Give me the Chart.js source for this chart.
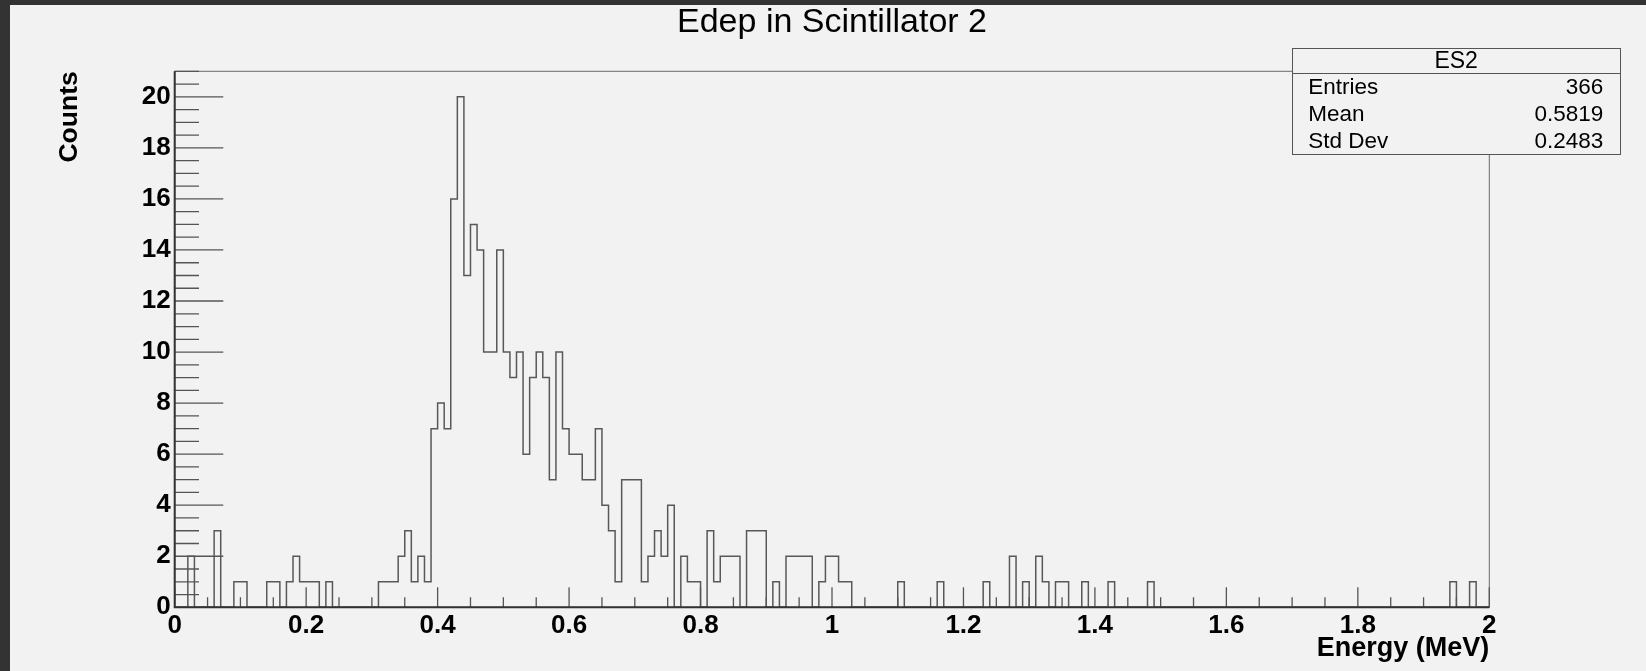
<!DOCTYPE html>
<html>
<head>
<meta charset="utf-8">
<title>Edep in Scintillator 2</title>
<script src="https://cdn.jsdelivr.net/npm/chart.js@4.4.1/dist/chart.umd.min.js"></script>
<style>
  html, body { margin: 0; padding: 0; background: #f2f2f2; }
  #wrap { position: relative; width: 1646px; height: 671px; overflow: hidden; font-family: "Liberation Sans", Arial, sans-serif; }
  #histChart { position: absolute; left: 0; top: 0; }
  .edge { position: absolute; background: #333333; }
  #stats { position: absolute; left: 1291.7px; top: 48.3px; width: 329px; height: 106.7px; box-sizing: border-box; border: 1px solid #555555; background: #f2f2f2; }
  #statsHead { position: absolute; left: 1291.7px; top: 72.5px; width: 329px; height: 1px; background: #555555; }
  .st { position: absolute; font-size: 22.5px; line-height: 27px; color: #000; white-space: nowrap; }
  .st.r { text-align: right; }
</style>
</head>
<body>
<div id="wrap">
  <canvas id="histChart" width="1646" height="671"></canvas>
  <div class="edge" style="left:0;top:0;width:1646px;height:5px"></div>
  <div class="edge" style="left:0;top:0;width:10px;height:671px"></div>
  <div id="stats"></div>
  <div id="statsHead"></div>
  <div class="st" style="left:1291.7px;width:329px;top:46.8px;font-size:23px;text-align:center">ES2</div>
  <div class="st" style="left:1308.3px;top:72.7px">Entries</div>
  <div class="st" style="left:1308.3px;top:100.4px">Mean</div>
  <div class="st" style="left:1308.3px;top:127px">Std Dev</div>
  <div class="st r" style="left:1403.3px;width:200px;top:72.7px">366</div>
  <div class="st r" style="left:1403.3px;width:200px;top:100.4px">0.5819</div>
  <div class="st r" style="left:1403.3px;width:200px;top:127px">0.2483</div>
</div>
<script>
// histogram ES2: 200 bins from 0 to 2 MeV
const xRange = [0, 2];
const binWidth = 0.01;
const counts = [
  0, 0, 2, 0, 0, 0, 3, 0, 0, 1, 1, 0, 0, 0, 1, 1, 0, 1, 2, 1,
  1, 1, 0, 1, 0, 0, 0, 0, 0, 0, 0, 1, 1, 1, 2, 3, 1, 2, 1, 7,
  8, 7, 16, 20, 13, 15, 14, 10, 10, 14, 10, 9, 10, 6, 9, 10, 9, 5, 10, 7,
  6, 6, 5, 5, 7, 4, 3, 1, 5, 5, 5, 1, 2, 3, 2, 4, 0, 2, 1, 1,
  0, 3, 1, 2, 2, 2, 0, 3, 3, 3, 0, 1, 0, 2, 2, 2, 2, 0, 1, 2,
  2, 1, 1, 0, 0, 0, 0, 0, 0, 0, 1, 0, 0, 0, 0, 0, 1, 0, 0, 0,
  0, 0, 0, 1, 0, 0, 0, 2, 0, 1, 0, 2, 1, 0, 1, 1, 0, 0, 1, 0,
  0, 0, 1, 0, 0, 0, 0, 0, 1, 0, 0, 0, 0, 0, 0, 0, 0, 0, 0, 0,
  0, 0, 0, 0, 0, 0, 0, 0, 0, 0, 0, 0, 0, 0, 0, 0, 0, 0, 0, 0,
  0, 0, 0, 0, 0, 0, 0, 0, 0, 0, 0, 0, 0, 0, 1, 0, 0, 1, 0, 0,
];
const yRange = [0, 21];
const xTickValues = [0, 0.2, 0.4, 0.6, 0.8, 1, 1.2, 1.4, 1.6, 1.8, 2];
const xTickLabels = ["0", "0.2", "0.4", "0.6", "0.8", "1", "1.2", "1.4", "1.6", "1.8", "2"];
const yTickValues = [0, 2, 4, 6, 8, 10, 12, 14, 16, 18, 20];
const xMinorStep = 0.05;
const yMinorStep = 0.5;

document.addEventListener("DOMContentLoaded", function () {
  const chartEl = document.getElementById("histChart");
  if (!chartEl) return;

  // one point per bin low edge, plus the upper edge of the last bin
  // ("before" stepping draws each count flat across its own bin)
  const outline = counts.map(function (c, i) {
    return { x: xRange[0] + i * binWidth, y: c };
  });
  outline.push({ x: xRange[1], y: counts[counts.length - 1] });

  const rootFrame = {
    id: "rootFrame",
    afterDatasetsDraw(chart) {
      const { ctx, chartArea: a, scales } = chart;
      const x = scales.x;
      const y = scales.y;
      ctx.save();
      // frame box
      ctx.strokeStyle = "#6a6a6a";
      ctx.lineWidth = 1;
      ctx.strokeRect(a.left, a.top, a.right - a.left, a.bottom - a.top);
      // ticks, pointing inside the frame
      ctx.strokeStyle = "#555555";
      ctx.lineWidth = 1.3;
      ctx.beginPath();
      for (let v = xRange[0]; v <= xRange[1] + 1e-9; v += xMinorStep) {
        const px = x.getPixelForValue(v);
        const major = xTickValues.some((t) => Math.abs(t - v) < 1e-6);
        ctx.moveTo(px, a.bottom);
        ctx.lineTo(px, a.bottom - (major ? 20 : 10));
      }
      for (let v = yRange[0]; v <= yRange[1] + 1e-9; v += yMinorStep) {
        const py = y.getPixelForValue(v);
        const major = yTickValues.some((t) => Math.abs(t - v) < 1e-6);
        ctx.moveTo(a.left, py);
        ctx.lineTo(a.left + (major ? 48.6 : 24.3), py);
      }
      ctx.stroke();
      // axis lines
      ctx.strokeStyle = "#333333";
      ctx.lineWidth = 2;
      ctx.beginPath();
      ctx.moveTo(a.left, a.top);
      ctx.lineTo(a.left, a.bottom);
      ctx.lineTo(a.right, a.bottom);
      ctx.stroke();
      ctx.restore();
    },
  };

  const config = {
    type: "line",
    data: {
      datasets: [
        {
          label: "ES2",
          data: outline,
          stepped: "before",
          borderColor: "#585858",
          borderWidth: 1.5,
          pointRadius: 0,
          fill: false,
        },
      ],
    },
    options: {
      responsive: false,
      devicePixelRatio: 1,
      animation: false,
      layout: { padding: { left: 0, right: 156.7, top: 0, bottom: 0 } },
      plugins: {
        legend: { display: false },
        tooltip: { enabled: false },
        title: {
          display: true,
          fullSize: false,
          text: "Edep in Scintillator 2",
          color: "#000000",
          font: { family: "Liberation Sans", size: 34, weight: "normal" },
          padding: { top: 2.4, bottom: 28.1 },
        },
      },
      scales: {
        x: {
          type: "linear",
          min: xRange[0],
          max: xRange[1],
          grid: { display: false, drawTicks: false, tickLength: 0 },
          border: { display: false },
          afterBuildTicks: function (axis) {
            axis.ticks = xTickValues.map((v) => ({ value: v }));
          },
          afterFit: function (axis) {
            axis.height = 63.7;
          },
          ticks: {
            padding: 3,
            maxRotation: 0,
            autoSkip: false,
            color: "#000000",
            font: { family: "Liberation Sans", size: 26, weight: "bold" },
            callback: function (value, index) {
              return xTickLabels[index];
            },
          },
          title: {
            display: true,
            text: "Energy (MeV)",
            align: "end",
            color: "#000000",
            font: { family: "Liberation Sans", size: 27, weight: "bold" },
            padding: { top: 0, bottom: 6.4 },
          },
        },
        y: {
          type: "linear",
          min: yRange[0],
          max: yRange[1],
          grid: { display: false, drawTicks: false, tickLength: 0 },
          border: { display: false },
          afterBuildTicks: function (axis) {
            axis.ticks = yTickValues.map((v) => ({ value: v }));
          },
          afterFit: function (axis) {
            axis.width = 174.7;
          },
          ticks: {
            padding: 4,
            autoSkip: false,
            color: "#000000",
            font: { family: "Liberation Sans", size: 26, weight: "bold" },
          },
          title: {
            display: true,
            text: "Counts",
            align: "end",
            color: "#000000",
            font: { family: "Liberation Sans", size: 26.5, weight: "bold" },
            padding: { top: 53.4, bottom: 0 },
          },
        },
      },
    },
    plugins: [rootFrame],
  };
  new Chart(chartEl, config);
});
</script>
</body>
</html>
